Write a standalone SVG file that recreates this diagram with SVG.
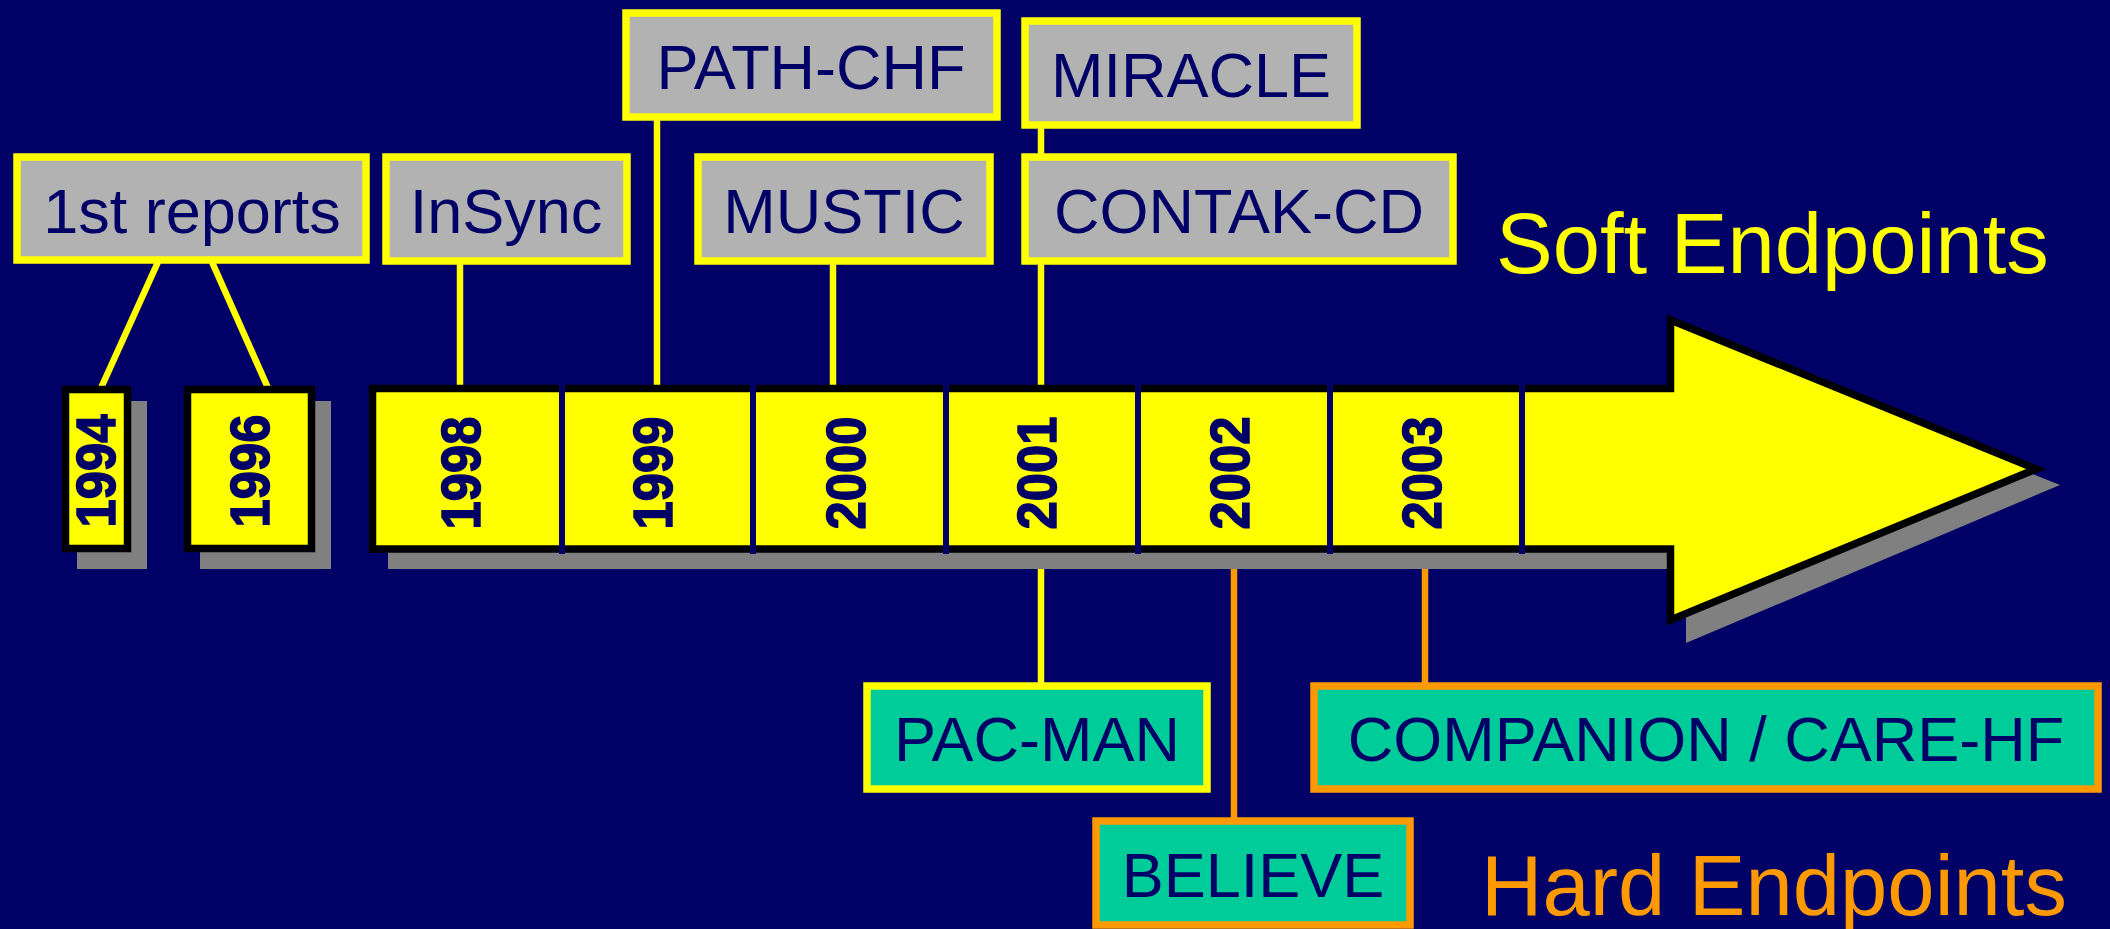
<svg xmlns="http://www.w3.org/2000/svg" width="2110" height="929" viewBox="0 0 2110 929">
  <style>
    .soft rect { fill: #b2b2b2; stroke: #ffff00; stroke-width: 7.5; }
    .hardY rect { fill: #00cc99; stroke: #ffff00; stroke-width: 7.5; }
    .hardO rect { fill: #00cc99; stroke: #ff9900; stroke-width: 7.5; }
    .lbl { font-family: "Liberation Sans", Arial, sans-serif; font-size: 63px; fill: #000066; text-anchor: middle; }
    .year { font-family: "Liberation Sans", Arial, sans-serif; font-size: 56px; font-weight: bold; fill: #000066; stroke: #000066; stroke-width: 1.5; text-anchor: middle; }
    .yl { stroke: #ffff00; stroke-width: 6.5; fill: none; }
    .ol { stroke: #ff9900; stroke-width: 6.5; fill: none; }
    .shadow { fill: #808080; }
    .cell { fill: #ffff00; stroke: #000000; stroke-width: 7.5; }
    .div { stroke: #000066; stroke-width: 6; }
    .title { font-family: "Liberation Sans", Arial, sans-serif; font-size: 85px; }
  </style>

  <rect width="2110" height="929" fill="#000066"/>

  <!-- connectors -->
  <g id="connectors">
    <line class="yl" x1="158" y1="262" x2="101" y2="388"/>
    <line class="yl" x1="212" y1="262" x2="268" y2="388"/>
    <line class="yl" x1="460" y1="262" x2="460" y2="388"/>
    <line class="yl" x1="657" y1="118" x2="657" y2="388"/>
    <line class="yl" x1="833" y1="262" x2="833" y2="388"/>
    <line class="yl" x1="1041" y1="126" x2="1041" y2="156"/>
    <line class="yl" x1="1041" y1="262" x2="1041" y2="388"/>
    <line class="yl" x1="1041" y1="550" x2="1041" y2="684"/>
    <line class="ol" x1="1234" y1="550" x2="1234" y2="819"/>
    <line class="ol" x1="1425" y1="550" x2="1425" y2="684"/>
  </g>

  <!-- early years -->
  <g id="y1994">
    <rect class="shadow" x="77" y="401" width="70" height="168"/>
    <rect class="cell" x="65.5" y="389.5" width="62" height="159"/>
    <text class="year" transform="translate(115,471) rotate(-90)" textLength="113" lengthAdjust="spacingAndGlyphs">1994</text>
  </g>
  <g id="y1996">
    <rect class="shadow" x="200" y="401" width="131" height="168"/>
    <rect class="cell" x="187.5" y="389.5" width="124" height="159"/>
    <text class="year" transform="translate(269,471) rotate(-90)" textLength="113" lengthAdjust="spacingAndGlyphs">1996</text>
  </g>

  <!-- timeline arrow -->
  <g id="timeline">
    <path class="shadow" d="M388,405 H1686 V336 L2060,485 L1686,643 V569 H388 Z"/>
    <path class="cell" d="M372.5,388.5 H1670.5 V320 L2036,469 L1670.5,620 V549 H372.5 Z"/>
    <line class="div" x1="562" y1="384" x2="562" y2="554"/>
    <line class="div" x1="753" y1="384" x2="753" y2="554"/>
    <line class="div" x1="946" y1="384" x2="946" y2="554"/>
    <line class="div" x1="1138" y1="384" x2="1138" y2="554"/>
    <line class="div" x1="1330" y1="384" x2="1330" y2="554"/>
    <line class="div" x1="1522" y1="384" x2="1522" y2="554"/>
    <text class="year" transform="translate(480,473) rotate(-90)" textLength="113" lengthAdjust="spacingAndGlyphs">1998</text>
    <text class="year" transform="translate(672,473) rotate(-90)" textLength="113" lengthAdjust="spacingAndGlyphs">1999</text>
    <text class="year" transform="translate(865,473) rotate(-90)" textLength="113" lengthAdjust="spacingAndGlyphs">2000</text>
    <text class="year" transform="translate(1056,473) rotate(-90)" textLength="113" lengthAdjust="spacingAndGlyphs">2001</text>
    <text class="year" transform="translate(1249,473) rotate(-90)" textLength="113" lengthAdjust="spacingAndGlyphs">2002</text>
    <text class="year" transform="translate(1441,473) rotate(-90)" textLength="113" lengthAdjust="spacingAndGlyphs">2003</text>
  </g>

  <!-- soft endpoint trials -->
  <g id="first-reports" class="soft">
    <rect x="17" y="157" width="349" height="103"/>
    <text class="lbl" x="192" y="233">1st reports</text>
  </g>
  <g id="insync" class="soft">
    <rect x="386" y="157" width="241" height="104"/>
    <text class="lbl" x="506" y="233">InSync</text>
  </g>
  <g id="path-chf" class="soft">
    <rect x="626" y="13" width="371" height="104"/>
    <text class="lbl" x="811" y="89">PATH-CHF</text>
  </g>
  <g id="mustic" class="soft">
    <rect x="698" y="157" width="292" height="104"/>
    <text class="lbl" x="844" y="233">MUSTIC</text>
  </g>
  <g id="miracle" class="soft">
    <rect x="1025" y="21" width="332" height="104"/>
    <text class="lbl" x="1191" y="97">MIRACLE</text>
  </g>
  <g id="contak-cd" class="soft">
    <rect x="1025" y="157" width="428" height="104"/>
    <text class="lbl" x="1239" y="233">CONTAK-CD</text>
  </g>

  <!-- hard endpoint trials -->
  <g id="pac-man" class="hardY">
    <rect x="867" y="686" width="340" height="103"/>
    <text class="lbl" x="1037" y="761">PAC-MAN</text>
  </g>
  <g id="companion-care-hf" class="hardO">
    <rect x="1314" y="686" width="784" height="103"/>
    <text class="lbl" x="1706" y="761">COMPANION / CARE-HF</text>
  </g>
  <g id="believe" class="hardO">
    <rect x="1096" y="821" width="314" height="104"/>
    <text class="lbl" x="1253" y="897">BELIEVE</text>
  </g>

  <!-- legend titles -->
  <text class="title" x="1496" y="273" fill="#ffff00">Soft Endpoints</text>
  <text class="title" x="1481" y="915" fill="#ff9900">Hard Endpoints</text>
</svg>
